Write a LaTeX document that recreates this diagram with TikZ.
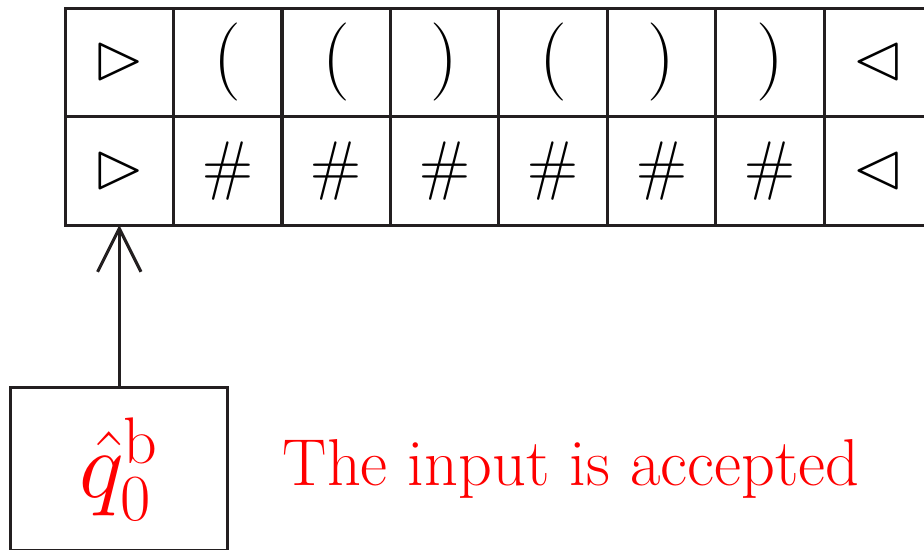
\documentclass[tikz,border=0pt]{standalone}
\usepackage{latexsym}
\usetikzlibrary{arrows.meta,positioning}
\definecolor{ink}{RGB}{35,31,32}
\newcommand{\lp}{\mbox{\fontsize{20.5}{24}\selectfont(}}
\newcommand{\rp}{\mbox{\fontsize{20.5}{24}\selectfont)}}
\tikzset{
  >={Straight Barb[length=4mm,width=4mm]},
  cell/.style={draw=ink,line width=0.8pt,outer sep=0pt,inner sep=0pt,
    minimum size=1cm,font=\fontsize{17}{20}\selectfont},
  state/.style={draw=ink,line width=0.8pt,outer sep=0pt,minimum width=2cm,
    minimum height=1.5cm,text=red,font=\fontsize{23}{27}\selectfont},
  note/.style={text=red,inner sep=0pt,anchor=west,font=\fontsize{17.4}{21}\selectfont},
  head/.style={->,line width=0.8pt,draw=ink},
}

\begin{document}
\begin{tikzpicture}
    \useasboundingbox (-0.6,0.075) rectangle (7.92,-4.995);
    \clip (-0.6,0.075) rectangle (7.92,-4.995);
    % tape: input row and marker row
    \foreach \s/\m [count=\i] in {\rhd/\rhd,\lp/\#,\lp/\#,\rp/\#,
      \lp/\#,\rp/\#,\rp/\#,\lhd/\lhd}
    {
      \node[cell] (t\i) at (\i-0.5,-0.5) {$\s$};
      \node[cell,below=0pt of t\i] (b\i) {$\m$};
    }
    \node[state] (q) at (0.5,-4.25) {$\hat{q}_0^{\mathrm{b}}$};
    \draw[head] (q.north) -- (b1.south);
    \node[note,right=5mm of q] (acc) {The input is accepted};
\end{tikzpicture}
\end{document}
